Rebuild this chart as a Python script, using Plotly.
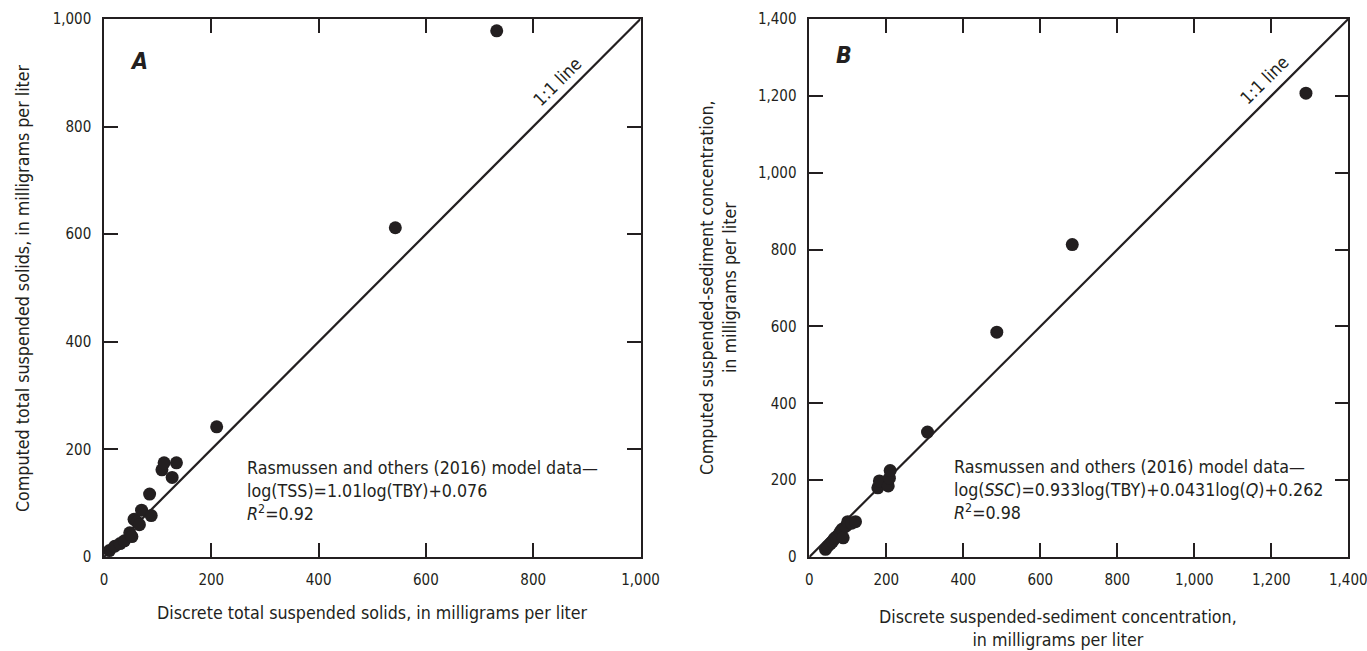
import plotly.graph_objects as go

# Panel A: total suspended solids (mg/L)
tss_discrete = [10, 20, 30, 38, 48, 52, 56, 62, 66, 70, 85, 88, 108, 112, 127, 135, 210, 543, 732]
tss_computed = [12, 20, 25, 30, 45, 38, 70, 65, 60, 87, 117, 77, 162, 175, 148, 175, 242, 612, 978]

# Panel B: suspended-sediment concentration (mg/L)
ssc_discrete = [42, 48, 55, 60, 65, 70, 75, 80, 85, 88, 95, 100, 110, 120,
                178, 182, 205, 208, 210, 307, 487, 683, 1290]
ssc_computed = [20, 28, 35, 40, 48, 52, 55, 65, 72, 50, 80, 92, 88, 92,
                180, 198, 185, 205, 225, 325, 585, 813, 1207]

range_a = [0, 1000]
range_b = [0, 1400]
ticks_a = [0, 200, 400, 600, 800, 1000]
ticks_b = [0, 200, 400, 600, 800, 1000, 1200, 1400]

FONT = "DejaVu Sans Condensed, DejaVu Sans, sans-serif"
INK = "#231f20"

W, H = 1367, 651

def px(x):
    return x / W

def py(y):
    return (H - y) / H

fig = go.Figure()

# 1:1 lines
fig.add_trace(go.Scatter(x=range_a, y=range_a, mode="lines",
                         line=dict(color=INK, width=2.2), xaxis="x", yaxis="y",
                         hoverinfo="skip", showlegend=False))
fig.add_trace(go.Scatter(x=range_b, y=range_b, mode="lines",
                         line=dict(color=INK, width=2.2), xaxis="x2", yaxis="y2",
                         hoverinfo="skip", showlegend=False))

# points
fig.add_trace(go.Scatter(x=tss_discrete, y=tss_computed, mode="markers",
                         marker=dict(color=INK, size=13), xaxis="x", yaxis="y",
                         cliponaxis=False, showlegend=False))
fig.add_trace(go.Scatter(x=ssc_discrete, y=ssc_computed, mode="markers",
                         marker=dict(color=INK, size=13), xaxis="x2", yaxis="y2",
                         cliponaxis=False, showlegend=False))

def axis_style(domain, rng, ticks, anchor):
    return dict(domain=domain, range=rng, tickvals=ticks,
                ticktext=[f"{t:,}" for t in ticks],
                showline=True, linecolor=INK, linewidth=1.5,
                mirror="ticks", ticks="inside", ticklen=14, tickwidth=1.5,
                tickcolor=INK, showgrid=False, zeroline=False,
                tickfont=dict(family=FONT, size=15, color=INK),
                ticklabelstandoff=8, ticklabeloverflow="allow",
                anchor=anchor, fixedrange=True, automargin=False)

xa_dom = [px(104), px(640.5)]
xb_dom = [px(809.3), px(1348.3)]
y_dom = [py(557), py(19)]

fig.update_layout(
    width=W, height=H,
    margin=dict(l=0, r=0, t=0, b=0),
    paper_bgcolor="white", plot_bgcolor="white",
    font=dict(family=FONT, color=INK),
    xaxis=axis_style(xa_dom, range_a, ticks_a, "y"),
    yaxis=axis_style(y_dom, range_a, ticks_a, "x"),
    xaxis2=axis_style(xb_dom, range_b, ticks_b, "y2"),
    yaxis2=axis_style(y_dom, range_b, ticks_b, "x2"),
)

ann = []
tf = dict(family=FONT, size=17.7, color=INK)

def paper_text(text, x, y, **kw):
    d = dict(text=text, xref="paper", yref="paper", x=px(x), y=py(y),
             showarrow=False, font=tf, xanchor="center", yanchor="middle")
    d.update(kw)
    return d

# axis titles
ann.append(paper_text("Discrete total suspended solids, in milligrams per liter", 372, 613))
ann.append(paper_text("Discrete suspended-sediment concentration,<br>in milligrams per liter", 1058, 628))
ann.append(paper_text("Computed total suspended solids, in milligrams per liter", 23, 288, textangle=-90))
ann.append(paper_text("Computed suspended-sediment concentration,<br>in milligrams per liter", 718, 288, textangle=-90))

# panel letters
ann.append(paper_text("<b><i>A</i></b>", 139, 61, font=dict(family=FONT, size=23, color=INK)))
ann.append(paper_text("<b><i>B</i></b>", 844, 55, font=dict(family=FONT, size=23, color=INK)))

# 1:1 line labels
ann.append(dict(text="1:1 line", xref="x", yref="y", x=864, y=864, xshift=-10, yshift=10,
                xanchor="center", yanchor="middle",
                showarrow=False, textangle=-45, font=tf))
ann.append(dict(text="1:1 line", xref="x2", yref="y2", x=1212, y=1212, xshift=-11, yshift=11,
                xanchor="center", yanchor="middle",
                showarrow=False, textangle=-45, font=tf))

# model text blocks
ann.append(paper_text("Rasmussen and others (2016) model data—<br>log(TSS)=1.01log(TBY)+0.076<br><i>R</i><sup>2</sup>=0.92",
                      245, 491, xanchor="left", align="left"))
ann.append(paper_text("Rasmussen and others (2016) model data—<br>log(<i>SSC</i>)=0.933log(TBY)+0.0431log(<i>Q</i>)+0.262<br><i>R</i><sup>2</sup>=0.98",
                      952, 490, xanchor="left", align="left"))

fig.update_layout(annotations=ann)

fig.write_html("out.html")
